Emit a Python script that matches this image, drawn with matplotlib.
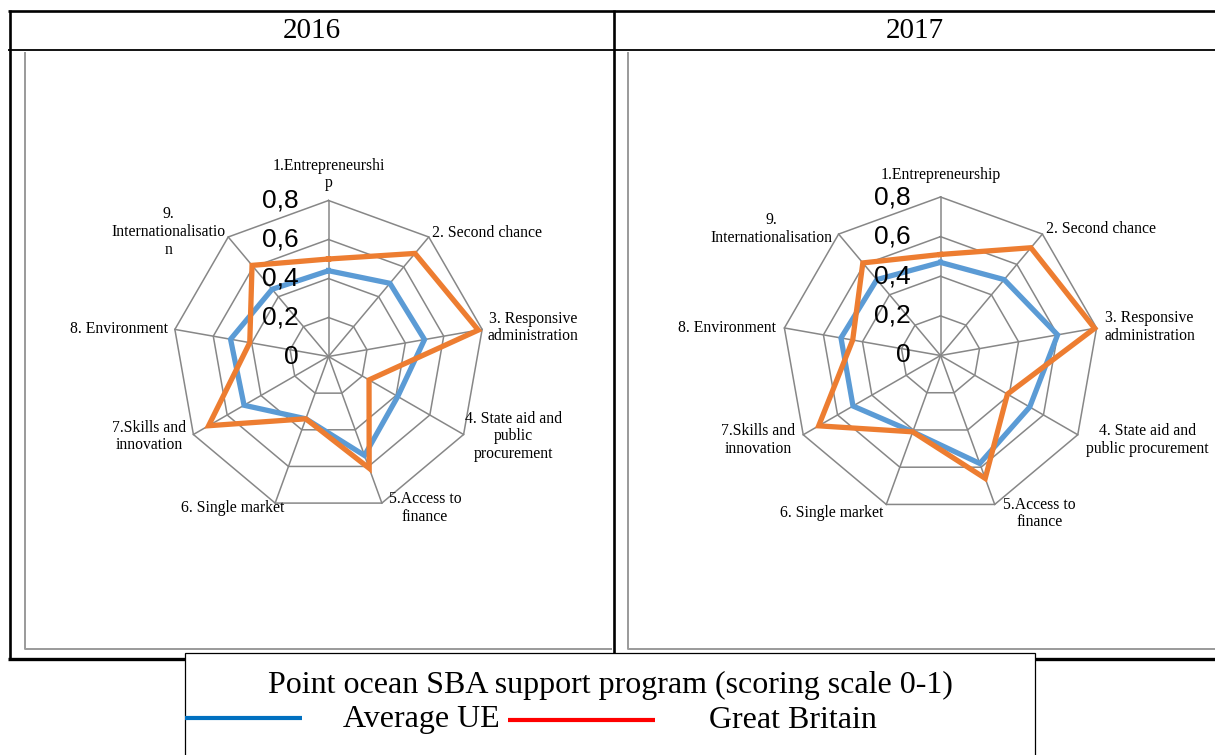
import numpy as np
import matplotlib
matplotlib.use("Agg")
import matplotlib.pyplot as plt
from matplotlib.patches import Rectangle

# ---------------- data ----------------
years = ["2016", "2017"]
categories_2016 = ["1.Entrepreneurshi\np", "2. Second chance", "3. Responsive\nadministration",
                   "4. State aid and\npublic\nprocurement", "5.Access to\nfinance",
                   "6. Single market", "7.Skills and\ninnovation", "8. Environment",
                   "9.\nInternationalisatio\nn"]
categories_2017 = ["1.Entrepreneurship", "2. Second chance", "3. Responsive\nadministration",
                   "4. State aid and\npublic procurement", "5.Access to\nfinance",
                   "6. Single market", "7.Skills and\ninnovation", "8. Environment",
                   "9.\nInternationalisation"]
avg_ue_2016 = [0.44, 0.49, 0.50, 0.41, 0.54, 0.34, 0.50, 0.51, 0.45]
gb_2016 = [0.50, 0.69, 0.78, 0.24, 0.61, 0.34, 0.71, 0.41, 0.61]
avg_ue_2017 = [0.47, 0.50, 0.60, 0.52, 0.58, 0.41, 0.51, 0.51, 0.50]
gb_2017 = [0.51, 0.71, 0.79, 0.39, 0.66, 0.41, 0.71, 0.45, 0.61]
r_ticks = [0, 0.2, 0.4, 0.6, 0.8]
r_tick_labels = ["0", "0,2", "0,4", "0,6", "0,8"]
legend_title = "Point ocean SBA support program (scoring scale 0-1)"
series_names = ["Average UE", "Great Britain"]

# ---------------- layout / style ----------------
W, H = 1215, 755
fig = plt.figure(figsize=(W / 100, H / 100), dpi=100)
SERIF = ["Liberation Serif", "DejaVu Serif"]
SANS = ["Liberation Sans", "DejaVu Sans"]
BLUE = "#5B9BD5"
ORANGE = "#ED7D31"
GRID = "#878787"
PX = 0.72  # points per pixel

overlay = fig.add_axes([0, 0, 1, 1])
overlay.set_xlim(0, W)
overlay.set_ylim(H, 0)
overlay.axis("off")

# label offsets (pixels, image coordinates) from each outer vertex
offs_2016 = [(0, -26), (58, -4), (51, -2), (50, 2), (43, 5), (-42, 5), (-44, 2), (-56, 0), (-60, -5)]
offs_2017 = [(0, -22), (59, -5), (53, -1), (70, 5), (45, 9), (-55, 9), (-45, 5), (-57, 0), (-67, -5)]


def radar(cx, cy, R, cats, ue, gb, offs):
    ax = fig.add_axes([(cx - R) / W, (H - cy - R) / H, 2 * R / W, 2 * R / H], projection="polar")
    ax.set_theta_zero_location("N")
    ax.set_theta_direction(-1)
    ax.set_ylim(0, r_ticks[-1])
    ax.axis("off")
    n = len(cats)
    theta = np.linspace(0, 2 * np.pi, n, endpoint=False)
    tc = np.append(theta, theta[0])
    for r in r_ticks[1:]:
        ax.plot(tc, [r] * (n + 1), color=GRID, lw=1.1, clip_on=False, zorder=1)
    for t in theta:
        ax.plot([t, t], [0, r_ticks[-1]], color=GRID, lw=1.1, clip_on=False, zorder=1)
    ax.plot(tc, list(ue) + [ue[0]], color=BLUE, lw=3.8, clip_on=False, zorder=3,
            solid_joinstyle="miter")
    ax.plot(tc, list(gb) + [gb[0]], color=ORANGE, lw=3.8, clip_on=False, zorder=4,
            solid_joinstyle="miter")
    for r, lab in zip(r_ticks, r_tick_labels):
        ax.annotate(lab, xy=(0, r), xytext=(-30 * PX, 0), textcoords="offset points",
                    ha="right", va="center", fontsize=19, family=SANS, zorder=6,
                    annotation_clip=False)
    for t, c, (dx, dy) in zip(theta, cats, offs):
        ax.annotate(c, xy=(t, r_ticks[-1]), xytext=(dx * PX, -dy * PX), textcoords="offset points",
                    ha="center", va="center", multialignment="center", fontsize=11.3,
                    family=SERIF, linespacing=1.15, zorder=6, annotation_clip=False)
    return ax


radar(328.5, 356.5, 156, categories_2016, avg_ue_2016, gb_2016, offs_2016)
radar(940.5, 355.5, 158.5, categories_2017, avg_ue_2017, gb_2017, offs_2017)

# ---------------- table frame ----------------
K = dict(color="black", clip_on=False, solid_capstyle="butt")
overlay.plot([8, W], [11, 11], lw=1.9, **K)
overlay.plot([8, W], [50, 50], lw=1.3, **K)
overlay.plot([9.5, 9.5], [10, 660], lw=1.9, **K)
overlay.plot([614, 614], [10, 660], lw=1.9, **K)
overlay.plot([8, W], [659, 659], lw=2.4, **K)
G = dict(color="#9a9a9a", lw=1.4, clip_on=False, solid_capstyle="butt")
overlay.plot([25, 25, 612], [52, 649, 649], **G)
overlay.plot([628, 628, W], [52, 649, 649], **G)

overlay.text(312, 31, years[0], ha="center", va="center", fontsize=21, family=SERIF)
overlay.text(915, 31, years[1], ha="center", va="center", fontsize=21, family=SERIF)

# ---------------- legend box ----------------
overlay.add_patch(Rectangle((185, 653), 850, 110, facecolor="white", edgecolor="black",
                            lw=0.9, zorder=5, clip_on=False))
overlay.text(610, 685, legend_title, ha="center", va="center", fontsize=23, family=SERIF, zorder=6)
overlay.plot([185, 302], [718, 718], color="#0070C0", lw=3, zorder=6, clip_on=False,
             solid_capstyle="butt")
overlay.text(421, 720, series_names[0], ha="center", va="center", fontsize=23, family=SERIF, zorder=6)
overlay.plot([508, 655], [720, 720], color="#FF0000", lw=3, zorder=6, clip_on=False,
             solid_capstyle="butt")
overlay.text(793, 720, series_names[1], ha="center", va="center", fontsize=23, family=SERIF, zorder=6)

fig.savefig("out.png", dpi=100, facecolor="white")
